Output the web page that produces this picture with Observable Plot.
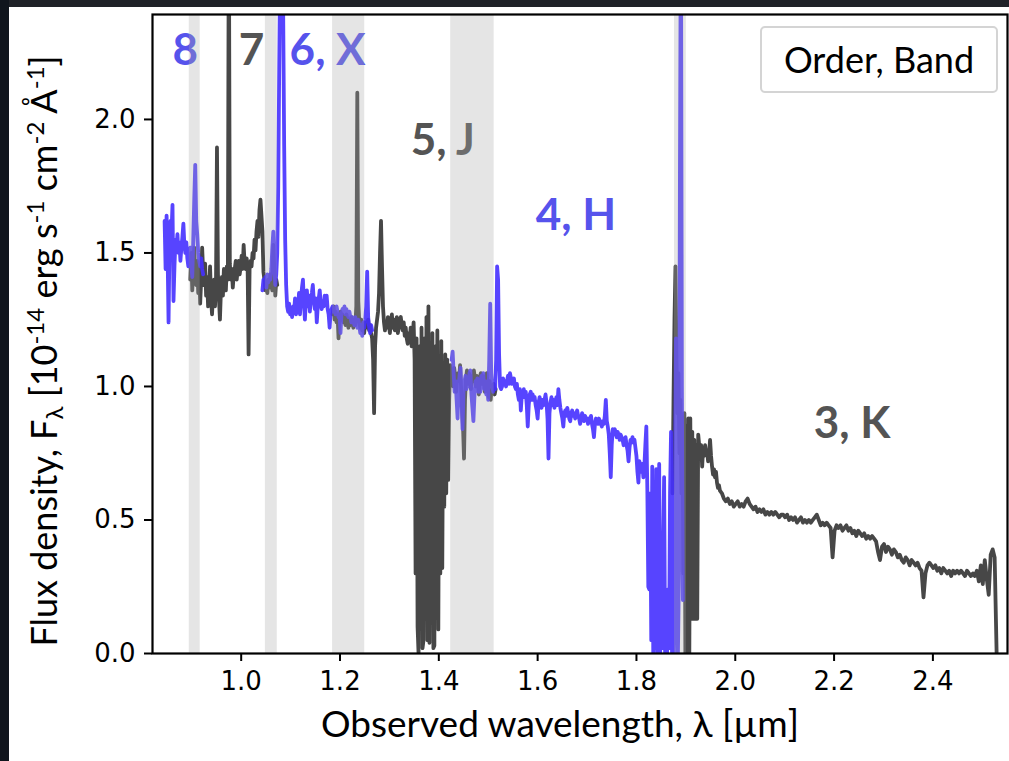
<!DOCTYPE html>
<html><head><meta charset="utf-8">
<script src="https://cdn.jsdelivr.net/npm/d3@7"></script>
<script src="https://cdn.jsdelivr.net/npm/@observablehq/plot@0.6"></script>
<style>
html,body{margin:0;padding:0;background:#1f2228;width:1009px;height:761px;overflow:hidden;}
#left{position:absolute;left:0;top:0;width:9px;height:761px;background:#10151d;}
#panel{position:absolute;left:9px;top:7px;width:1000px;height:754px;background:#fff;}
</style></head><body><div id="left"></div><div id="panel"></div>
<script>
// ---- data (wavelength in µm, flux in 1e-14 erg s-1 cm-2 Å-1) ----
const order8Wave = [0.845,0.847,0.849,0.851,0.853,0.855,0.857,0.859,0.861,0.863,
0.865,0.867,0.869,0.871,0.873,0.875,0.877,0.879,0.881,0.883,
0.885,0.887,0.889,0.891,0.893,0.895,0.897,0.899,0.901,0.903,
0.905,0.907,0.909,0.911,0.913,0.915,0.917,0.919,0.921,0.923];
const order8Flux = [1.62,1.44,1.64,1.50,1.24,1.55,1.62,1.58,1.68,1.32,
1.45,1.55,1.52,1.57,1.50,1.54,1.47,1.52,1.56,1.61,
1.53,1.50,1.54,1.48,1.45,1.51,1.52,1.46,1.41,1.55,
1.70,1.83,1.62,1.57,1.50,1.47,1.45,1.48,1.44,1.42];

const order7Wave = [0.897,0.899,0.901,0.903,0.905,0.907,0.909,0.911,0.913,0.915,
0.917,0.919,0.921,0.923,0.925,0.927,0.929,0.931,0.933,0.935,
0.937,0.939,0.941,0.943,0.945,0.947,0.949,0.951,0.953,0.955,
0.957,0.959,0.961,0.963,0.965,0.967,0.969,0.971,0.973,0.975,
0.977,0.979,0.981,0.983,0.985,0.987,0.989,0.991,0.993,0.995,
0.997,0.999,1.001,1.003,1.005,1.007,1.009,1.011,1.013,1.015,
1.017,1.019,1.021,1.023,1.025,1.027,1.029,1.031,1.033,1.035,
1.037,1.039,1.041,1.043,1.045,1.047,1.049,1.051,1.053,1.055,
1.057,1.059,1.061,1.063,1.065,1.067,1.069,1.071,1.073];
const order7Flux = [1.40,1.50,1.36,1.45,1.52,1.42,1.38,1.47,1.35,1.44,
1.31,1.40,1.52,1.43,1.38,1.46,1.34,1.41,1.30,1.36,
1.45,1.33,1.27,1.35,1.40,1.30,1.38,1.895,1.42,1.33,
1.25,1.36,1.41,1.34,1.44,1.38,1.36,1.45,1.40,2.80,
1.46,1.40,1.44,1.37,1.42,1.44,1.47,1.40,1.44,1.47,1.42,
1.45,1.49,1.44,1.53,1.46,1.44,1.48,1.45,1.12,1.44,
1.47,1.45,1.50,1.48,1.55,1.51,1.58,1.62,1.56,1.66,
1.70,1.64,1.58,1.43,1.40,1.36,1.38,1.35,1.40,1.37,
1.42,1.38,1.36,1.53,1.44,1.34,1.40,1.38];

const order6Wave = [1.043,1.045,1.047,1.049,1.051,1.053,1.055,1.057,1.059,1.061,
1.063,1.065,1.067,1.069,1.071,1.073,1.075,1.077,1.079,1.081,
1.083,1.085,1.087,1.089,1.091,1.093,1.095,1.097,1.099,1.101,
1.103,1.105,1.107,1.109,1.111,1.113,1.115,1.117,1.119,1.121,
1.123,1.125,1.127,1.129,1.131,1.133,1.135,1.137,1.139,1.141,
1.143,1.145,1.147,1.149,1.151,1.153,1.155,1.157,1.159,1.161,
1.163,1.165,1.167,1.169,1.171,1.173,1.175,1.177,1.179,1.181,
1.183,1.185,1.187,1.189,1.191,1.193,1.195,1.197,1.199,1.201,
1.203,1.205,1.207,1.209,1.211,1.213,1.215,1.217,1.219,1.221,
1.223,1.225,1.227,1.229,1.231,1.233,1.235,1.237,1.239,1.241,
1.243,1.245,1.247,1.249,1.251,1.253,1.255,1.257,1.259,1.261,
1.263,1.265];
const order6Flux = [1.36,1.40,1.38,1.41,1.37,1.42,1.39,1.41,1.40,1.44,
1.52,1.58,1.45,1.38,1.42,1.50,1.75,2.20,2.60,2.70,
2.65,2.40,1.90,1.55,1.38,1.30,1.28,1.31,1.27,1.29,
1.26,1.30,1.28,1.33,1.27,1.31,1.29,1.35,1.27,1.33,
1.37,1.40,1.31,1.25,1.33,1.36,1.30,1.34,1.28,1.33,
1.35,1.38,1.32,1.29,1.33,1.24,1.30,1.33,1.36,1.31,
1.29,1.32,1.30,1.34,1.31,1.34,1.29,1.27,1.22,1.28,1.29,
1.30,1.28,1.29,1.27,1.30,1.28,1.26,1.27,1.20,1.27,
1.29,1.28,1.30,1.27,1.29,1.27,1.26,1.28,1.26,1.24,
1.26,1.25,1.23,1.26,1.24,1.22,1.25,1.23,1.20,1.23,
1.19,1.24,1.22,1.25,1.30,1.43,1.26,1.22,1.20,1.23,1.21];

const order5Wave = [1.185,1.187,1.189,1.191,1.193,1.195,1.197,1.199,1.201,1.203,
1.205,1.207,1.209,1.211,1.213,1.215,1.217,1.219,1.221,1.223,
1.225,1.227,1.229,1.231,1.233,1.235,1.237,1.239,1.241,1.243,
1.245,1.247,1.249,1.251,1.253,1.255,1.257,1.259,1.261,1.263,
1.265,1.267,1.269,1.271,1.273,1.275,1.277,1.279,1.281,1.283,
1.285,1.287,1.289,1.291,1.293,1.295,1.297,1.299,1.301,1.303,
1.305,1.307,1.309,1.311,1.313,1.315,1.317,1.319,1.321,1.323,
1.325,1.327,1.329,1.331,1.333,1.335,1.337,1.339,1.341,1.343,
1.345,1.347,1.349,1.351,1.353,1.355,1.357,1.359,1.361,1.363,
1.365,1.367,1.369,1.371,1.373,1.375,1.377,1.379,1.381,1.383,
1.385,1.387,1.389,1.391,1.393,1.395,1.397,1.399,1.401,1.403,
1.405,1.407,1.409,1.411,1.413,1.415,1.417,1.419,1.421,1.423,
1.425,1.427,1.429,1.431,1.433,1.435,1.437,1.439,1.441,1.443,
1.445,1.447,1.449,1.451,1.453,1.455,1.457,1.459,1.461,1.463,
1.465,1.467,1.469,1.471,1.473,1.475,1.477,1.479,1.481,1.483,
1.485,1.487,1.489,1.491,1.493,1.495,1.497,1.499,1.501,1.503,
1.505,1.507,1.509,1.511,1.513,1.515];
const order5Flux = [1.27,1.30,1.25,1.28,1.24,1.27,1.18,1.26,1.28,1.25,
1.27,1.24,1.26,1.23,1.27,1.25,1.22,1.25,1.23,1.26,
1.24,1.22,1.25,1.23,1.30,2.10,1.32,1.24,1.22,1.25,
1.21,1.23,1.20,1.24,1.22,1.23,1.25,1.21,1.23,1.20,1.18,
1.10,0.90,1.15,1.22,1.25,1.28,1.35,1.50,1.62,1.45,
1.30,1.24,1.21,1.24,1.22,1.26,1.23,1.20,1.24,1.27,
1.22,1.25,1.21,1.23,1.26,1.20,1.22,1.25,1.26,1.23,
1.21,1.24,1.19,1.22,1.18,1.16,1.20,1.17,1.22,1.15,
1.19,1.24,1.10,0.30,1.18,0.10,0.00,1.15,0.25,1.22,
0.02,0.05,1.18,0.30,1.26,0.05,1.30,0.04,1.12,0.30,
1.20,0.02,0.03,1.15,0.30,1.21,0.09,1.10,0.30,1.17,
0.32,1.05,0.55,1.12,0.60,1.10,0.65,0.95,1.08,1.02,
1.06,1.00,1.07,1.04,0.98,1.03,1.05,1.02,1.08,1.00,0.92,
0.85,0.73,0.95,1.03,1.06,1.01,1.05,1.03,0.99,1.04,
1.02,1.06,1.03,1.00,1.04,1.02,0.97,1.03,1.05,1.01,
1.04,1.02,0.98,1.03,1.05,1.00,0.96,1.02,0.95,1.00,
0.98,1.01,0.97,0.99];

const order4Wave = [1.426,1.428,1.430,1.432,1.434,1.436,1.438,1.440,1.442,1.444,
1.446,1.448,1.450,1.452,1.454,1.456,1.458,1.460,1.462,1.464,
1.466,1.468,1.470,1.472,1.474,1.476,1.478,1.480,1.482,1.484,
1.486,1.488,1.490,1.492,1.494,1.496,1.498,1.500,1.502,1.504,
1.506,1.508,1.510,1.512,1.514,1.516,1.518,1.520,1.522,1.524,
1.526,1.528,1.530,1.532,1.534,1.536,1.538,1.540,1.542,1.544,
1.546,1.548,1.550,1.552,1.554,1.556,1.558,1.560,1.562,1.564,
1.566,1.568,1.570,1.572,1.574,1.576,1.578,1.580,1.582,1.584,
1.586,1.588,1.590,1.592,1.594,1.596,1.598,1.600,1.602,1.604,
1.606,1.608,1.610,1.612,1.614,1.616,1.618,1.620,1.622,1.624,
1.626,1.628,1.630,1.632,1.634,1.636,1.638,1.640,1.642,1.644,
1.646,1.648,1.650,1.652,1.654,1.656,1.658,1.660,1.662,1.664,
1.666,1.668,1.670,1.672,1.674,1.676,1.678,1.680,1.682,1.684,
1.686,1.688,1.690,1.692,1.694,1.696,1.698,1.700,1.702,1.704,
1.706,1.708,1.710,1.712,1.714,1.716,1.718,1.720,1.722,1.724,
1.726,1.728,1.730,1.732,1.734,1.736,1.738,1.740,1.742,1.744,
1.746,1.748,1.750,1.752,1.754,1.756,1.758,1.760,1.762,1.764,
1.766,1.768,1.770,1.772,1.774,1.776,1.778,1.780,1.782,1.784,
1.786,1.788,1.790,1.792,1.794,1.796,1.798,1.800,1.802,1.804,
1.806,1.808,1.810,1.812,1.814,1.816,1.818,1.820,1.822,1.824,
1.826,1.828,1.830,1.832,1.834,1.836,1.838,1.840,1.842,1.844,
1.846,1.848,1.850,1.852,1.854,1.856,1.858,1.860,1.862,1.864,
1.866,1.868,1.870,1.872,1.874,1.876,1.878,1.880,1.882,1.884,
1.886,1.888,1.890,1.892,1.894];
const order4Flux = [1.10,1.13,1.05,0.98,1.02,0.95,0.88,1.00,1.04,1.07,
0.95,0.84,0.98,1.02,1.04,0.99,1.03,1.00,1.05,1.06,
0.97,0.92,0.87,0.96,1.02,0.99,1.03,0.98,1.01,0.98,
1.04,1.01,1.05,0.99,1.02,0.97,1.00,0.95,1.10,1.31,
1.05,1.00,0.98,1.01,0.99,1.10,1.45,1.40,1.12,1.00,
0.99,1.00,1.03,1.01,1.02,1.00,1.02,1.04,1.01,1.05,
1.03,1.01,1.02,1.03,1.00,0.99,1.01,0.97,0.95,0.99,0.91,
0.97,0.96,0.99,0.96,0.98,0.93,0.85,0.93,0.97,0.98,
0.95,0.97,0.95,0.96,0.93,0.91,0.88,0.94,0.96,0.94,
0.92,0.95,0.93,0.95,0.97,0.94,0.88,0.73,0.90,0.94,
0.96,0.93,0.95,0.92,0.94,0.96,0.93,0.99,0.95,0.92,
0.90,0.88,0.85,0.90,0.91,0.89,0.92,0.90,0.88,0.87,
0.90,0.91,0.89,0.90,0.88,0.90,0.91,0.89,0.88,0.86,
0.88,0.90,0.89,0.87,0.89,0.88,0.88,0.86,0.88,0.87,0.89,
0.86,0.84,0.81,0.86,0.88,0.87,0.86,0.88,0.87,0.86,
0.85,0.87,0.86,0.89,0.95,0.87,0.85,0.82,0.75,0.66,
0.78,0.84,0.82,0.84,0.83,0.81,0.83,0.82,0.80,0.82,0.81,
0.80,0.78,0.79,0.81,0.78,0.76,0.72,0.77,0.80,0.79,
0.81,0.79,0.80,0.77,0.74,0.68,0.64,0.72,0.70,0.68,
0.71,0.66,0.70,0.78,0.85,0.62,0.25,0.24,0.60,0.05,
0.70,0.00,0.24,0.02,0.69,0.00,0.24,0.71,0.00,0.20,
0.02,0.40,0.66,0.00,0.22,0.00,0.24,0.02,0.60,0.83,
0.00,0.20,0.00,0.60,1.18,0.40,0.00,0.30,1.80,2.80,
1.00,0.20];

const order3Wave = [1.873,1.875,1.877,1.879,1.881,1.883,1.885,1.887,1.889,1.891,
1.893,1.895,1.897,1.899,1.901,1.903,1.905,1.907,1.909,1.911,
1.913,1.915,1.917,1.919,1.921,1.923,1.925,1.927,1.929,1.931,
1.933,1.935,1.937,1.939,1.941,1.943,1.945,1.947,1.949,1.951,
1.953,1.955,1.957,1.959,1.961,1.963,1.965,1.967,1.969,
1.973,1.977,1.981,1.985,1.989,1.993,1.997,2.001,2.005,2.009,
2.013,2.017,2.021,2.025,2.029,2.033,2.037,2.041,2.045,2.049,
2.053,2.057,2.061,2.065,2.069,2.073,2.077,2.081,2.085,2.089,
2.093,2.097,2.101,2.105,2.109,2.113,2.117,2.121,2.125,2.129,
2.133,2.137,2.141,2.145,2.149,2.153,2.157,2.161,2.165,2.169,
2.173,2.177,2.181,2.185,2.189,2.193,2.197,2.201,2.205,2.209,
2.213,2.217,2.221,2.225,2.229,2.233,2.237,2.241,2.245,2.249,
2.253,2.257,2.261,2.265,2.269,2.273,2.277,2.281,2.285,2.289,
2.293,2.297,2.301,2.305,2.309,2.313,2.317,2.321,2.325,2.329,
2.333,2.337,2.341,2.345,2.349,2.353,2.357,2.361,2.365,2.369,
2.373,2.377,2.381,2.385,2.389,2.393,2.397,2.401,2.405,2.409,
2.413,2.417,2.421,2.425,2.429,2.433,2.437,2.441,2.445,2.449,
2.453,2.457,2.461,2.465,2.469,2.473,2.477,2.481,2.485,2.489,
2.493,2.497,2.501,2.505,2.509,2.513,2.517,2.521,2.525,2.529];
const order3Flux = [0.60,0.95,1.25,1.45,1.10,0.90,1.05,0.75,0.95,0.60,
0.88,0.30,0.90,0.00,0.85,0.00,0.88,0.00,0.88,0.13,
0.83,0.13,0.80,0.13,0.78,0.13,0.82,0.78,0.74,0.78,
0.70,0.77,0.74,0.78,0.75,0.76,0.72,0.75,0.80,0.74,
0.70,0.67,0.69,0.66,0.68,0.64,0.62,0.63,0.61,
0.60,0.58,0.57,0.58,0.56,0.57,0.55,0.56,0.57,0.55,
0.56,0.55,0.57,0.58,0.56,0.55,0.54,0.55,0.53,0.54,
0.53,0.54,0.52,0.53,0.52,0.53,0.52,0.53,0.52,0.51,
0.52,0.52,0.51,0.52,0.50,0.51,0.50,0.51,0.49,0.50,
0.51,0.49,0.50,0.49,0.50,0.49,0.50,0.51,0.52,0.50,
0.48,0.49,0.48,0.49,0.48,0.47,0.36,0.46,0.48,0.47,
0.48,0.46,0.47,0.48,0.46,0.47,0.45,0.46,0.44,0.46,
0.45,0.44,0.45,0.43,0.44,0.43,0.44,0.43,0.42,0.38,
0.35,0.40,0.41,0.38,0.40,0.39,0.37,0.39,0.38,0.36,
0.37,0.35,0.34,0.36,0.35,0.33,0.35,0.34,0.33,0.34,
0.32,0.31,0.21,0.30,0.33,0.34,0.33,0.32,0.33,0.31,
0.32,0.30,0.32,0.31,0.30,0.31,0.29,0.31,0.30,0.31,
0.30,0.31,0.30,0.29,0.31,0.30,0.29,0.30,0.29,0.31,
0.27,0.33,0.26,0.35,0.28,0.22,0.37,0.39,0.36,0.00];

// shaded telluric bands
const bandStart = [0.895, 1.049, 1.185, 1.424, 1.877];
const bandEnd   = [0.917, 1.073, 1.250, 1.512, 1.901];

// order / band annotations
const labelText  = ["8", "7", "6, X", "5, J", "4, H", "3, K"];
const labelWave  = [0.861, 0.995, 1.098, 1.343, 1.596, 2.159];
const labelFlux  = [2.255, 2.255, 2.255, 1.918, 1.637, 0.861];
const labelColor = ["#5653ec", "#545454", "#5653ec", "#545454", "#5653ec", "#545454"];

const xTicks = [1.0, 1.2, 1.4, 1.6, 1.8, 2.0, 2.2, 2.4];
const yTicks = [0.0, 0.5, 1.0, 1.5, 2.0];

const GRAY = "#333333", BLUE = "#4530ff";
const lineOpts = (w, f, c) => ({x: w, y: f, stroke: c, strokeWidth: 3.8, strokeOpacity: 0.9, strokeLinejoin: "round", clip: true});

const chart = Plot.plot({
  width: 1000, height: 754,
  marginLeft: 143, marginRight: 2, marginTop: 7, marginBottom: 108,
  x: {domain: [0.8205, 2.551]},
  y: {domain: [0, 2.393]},
  color: {type: "identity"},
  style: {fontFamily: "DejaVu Sans", fontSize: "26px", background: "transparent", overflow: "visible", color: "black"},
  marks: [
    Plot.line(order3Wave, lineOpts(order3Wave, order3Flux, GRAY)),
    Plot.line(order5Wave, lineOpts(order5Wave, order5Flux, GRAY)),
    Plot.line(order7Wave, lineOpts(order7Wave, order7Flux, GRAY)),
    Plot.line(order4Wave, lineOpts(order4Wave, order4Flux, BLUE)),
    Plot.line(order6Wave, lineOpts(order6Wave, order6Flux, BLUE)),
    Plot.line(order8Wave, lineOpts(order8Wave, order8Flux, BLUE)),
    Plot.text(labelText, {x: labelWave, y: labelFlux, text: labelText, fill: labelColor,
      textAnchor: "start", fontFamily: "Lato", fontWeight: "bold", fontSize: 44}),
    Plot.rect(bandStart, {x1: bandStart, x2: bandEnd, y1: 0, y2: 2.393, fill: "#a8a8a8", fillOpacity: 0.3}),
    Plot.frame({stroke: "black", strokeWidth: 2.2}),
    Plot.axisX({ticks: xTicks, tickFormat: d3.format(".1f"), tickSize: 8, tickPadding: 10, fontSize: 26, strokeWidth: 2, label: null}),
    Plot.axisY({ticks: yTicks, tickFormat: d3.format(".1f"), tickSize: 8, tickPadding: 9, fontSize: 26, strokeWidth: 2, label: null}),
    Plot.text(["Observed wavelength, λ [µm]"], {frameAnchor: "bottom", dx: -20, dy: 83, fontFamily: "Lato", fontSize: 37, fill: "black"})
  ]
});

const svg = d3.select(chart);
// tick label font
svg.selectAll('g[aria-label$="tick label"]').attr("font-size", 26).attr("font-family", "DejaVu Sans");

// y-axis label with sub/superscripts
const yl = svg.append("text")
  .attr("transform", "translate(48,344) rotate(-90)")
  .attr("text-anchor", "middle")
  .attr("font-family", "Lato").attr("font-size", 36).attr("fill", "black");
const parts = [["Flux density, F", 0], ["λ", -1], [" [10", 0], ["-14", 1], [" erg s", 0], ["-1", 1],
  [" cm", 0], ["-2", 1], [" Å", 0], ["-1", 1], ["]", 0]];
for (const [t, s] of parts) {
  const ts = yl.append("tspan").text(t);
  if (s === 1) ts.attr("baseline-shift", "55%").attr("font-size", 24);
  if (s === -1) ts.attr("baseline-shift", "-25%").attr("font-size", 24);
}

// "Order, Band" legend box
const lg = svg.append("g");
lg.append("rect").attr("x", 752).attr("y", 20).attr("width", 236).attr("height", 65)
  .attr("rx", 4).attr("fill", "white").attr("stroke", "#d4d4d4").attr("stroke-width", 2);
lg.append("text").attr("x", 870).attr("y", 66).attr("text-anchor", "middle")
  .attr("font-family", "Lato").attr("font-size", 36).attr("fill", "black").text("Order, Band");

document.getElementById("panel").appendChild(chart);
</script>
</body></html>
